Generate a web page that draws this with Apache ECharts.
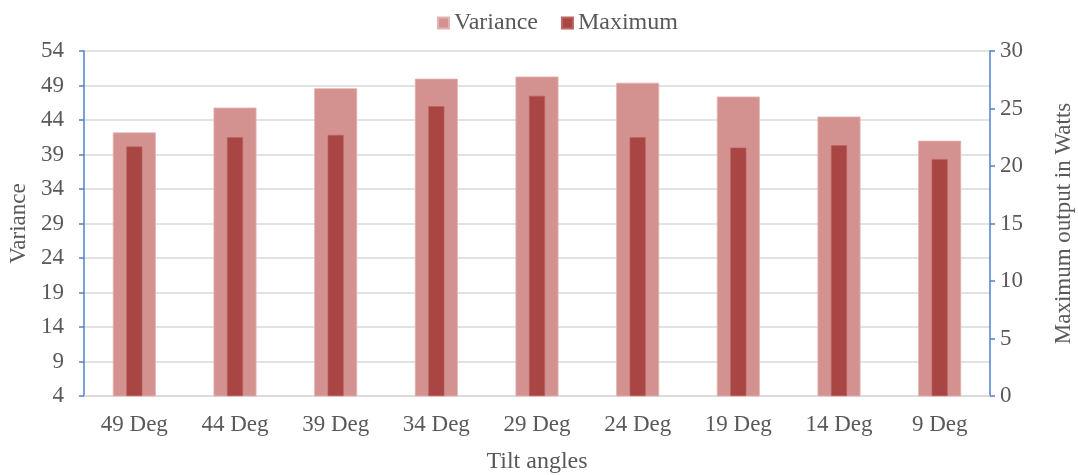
<!DOCTYPE html>
<html>
<head>
<meta charset="utf-8">
<script src="https://cdn.jsdelivr.net/npm/echarts@6/dist/echarts.min.js"></script>
<style>
  html, body { margin: 0; padding: 0; background: #fff; }
  #chart { width: 1078px; height: 475px; }
</style>
</head>
<body>
<div id="chart"></div>
<script>
// Tilt angle categories
const categories = ['49 Deg', '44 Deg', '39 Deg', '34 Deg', '29 Deg', '24 Deg', '19 Deg', '14 Deg', '9 Deg'];
// Variance per tilt angle (left axis)
const varianceValues = [42.2, 45.8, 48.6, 50.0, 50.3, 49.4, 47.4, 44.5, 41.0];
// Maximum output in Watts per tilt angle (right axis)
const maximumValues = [21.7, 22.5, 22.7, 25.2, 26.1, 22.5, 21.6, 21.8, 20.6];

const FONT = '"Liberation Serif", "Times New Roman", serif';
const TEXT = '#595959';
const AXIS_BLUE = '#4F81C7';
const GRID_GRAY = '#D9D9D9';

const chart = echarts.init(document.getElementById('chart'), null, { renderer: 'canvas' });

chart.setOption({
  animation: false,
  textStyle: { fontFamily: FONT, color: TEXT },
  legend: {
    top: 6,
    left: 432,
    icon: 'rect',
    itemWidth: 11,
    itemHeight: 11,
    itemGap: 23,
    textStyle: { fontFamily: FONT, fontSize: 24, color: TEXT },
    data: ['Variance', 'Maximum']
  },
  grid: {
    left: 84, right: 88, top: 51, bottom: 79,
    containLabel: false,
    outerBoundsMode: 'none'
  },
  xAxis: [
    {
      type: 'category',
      data: categories,
      name: 'Tilt angles',
      nameLocation: 'middle',
      nameGap: 54,
      nameTextStyle: { fontFamily: FONT, fontSize: 24, color: TEXT },
      axisLine: { lineStyle: { color: GRID_GRAY, width: 1.5 } },
      axisTick: { show: false },
      axisLabel: { fontFamily: FONT, fontSize: 23, color: TEXT, margin: 17 }
    },
    {
      type: 'category',
      data: categories,
      show: false
    }
  ],
  yAxis: [
    {
      type: 'value',
      min: 4,
      max: 54,
      interval: 5,
      name: 'Variance',
      nameLocation: 'middle',
      nameGap: 52,
      nameTextStyle: { fontFamily: FONT, fontSize: 23, color: TEXT },
      axisLine: { show: true, lineStyle: { color: AXIS_BLUE, width: 1.5 } },
      axisTick: { show: true, length: 5, lineStyle: { color: AXIS_BLUE, width: 1.5 } },
      axisLabel: { fontFamily: FONT, fontSize: 23, color: TEXT, margin: 20 },
      splitLine: { lineStyle: { color: GRID_GRAY, width: 1.5 } }
    },
    {
      type: 'value',
      min: 0,
      max: 30,
      interval: 5,
      position: 'right',
      name: 'Maximum output in Watts',
      nameLocation: 'middle',
      nameGap: 62,
      nameRotate: 90,
      nameTextStyle: { fontFamily: FONT, fontSize: 23, color: TEXT },
      axisLine: { show: true, lineStyle: { color: AXIS_BLUE, width: 1.5 } },
      axisTick: { show: true, length: 5, lineStyle: { color: AXIS_BLUE, width: 1.5 } },
      axisLabel: { fontFamily: FONT, fontSize: 23, color: TEXT, margin: 10 },
      splitLine: { show: false }
    }
  ],
  series: [
    {
      name: 'Variance',
      type: 'bar',
      xAxisIndex: 0,
      yAxisIndex: 0,
      data: varianceValues,
      barWidth: 43,
      itemStyle: { color: '#D39190', borderColor: '#E2B4B3', borderWidth: 0.8 },
      z: 2
    },
    {
      name: 'Maximum',
      type: 'bar',
      xAxisIndex: 1,
      yAxisIndex: 1,
      data: maximumValues,
      barWidth: 16,
      itemStyle: { color: '#A94644', borderColor: '#BC6462', borderWidth: 0.6 },
      z: 3
    }
  ]
});
</script>
</body>
</html>
